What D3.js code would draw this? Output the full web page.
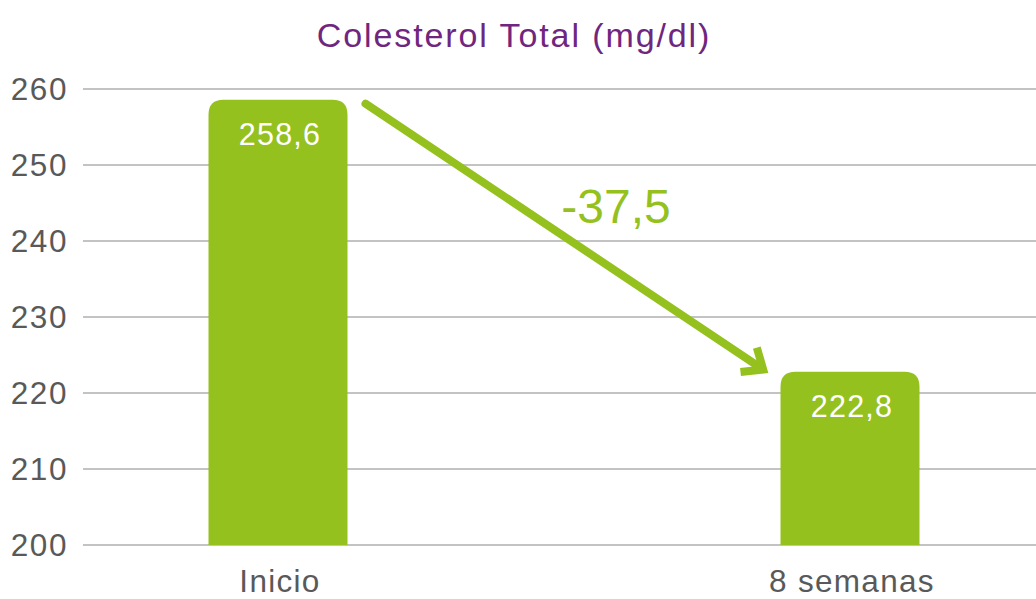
<!DOCTYPE html>
<html>
<head>
<meta charset="utf-8">
<script src="https://cdn.jsdelivr.net/npm/d3@7"></script>
<style>
  body { margin: 0; background: #fff; }
  svg { display: block; font-family: "Liberation Sans", Arial, sans-serif; }
</style>
</head>
<body>
<div id="graph"></div>
<script>
// chart data
var categories = ["Inicio", "8 semanas"];
var values = [258.6, 222.8];
var valueLabels = ["258,6", "222,8"];
var yTicks = [200, 210, 220, 230, 240, 250, 260];
var changeLabel = "-37,5";
var title = "Colesterol Total (mg/dl)";

var width = 1036, height = 599;
var green = "#95c11f";

var svg = d3.select("#graph").append("svg")
  .attr("width", width)
  .attr("height", height);

var y = d3.scaleLinear().domain([200, 260]).range([545, 89]);
var x = d3.scalePoint().domain(categories).range([-8, 1136]).padding(0.5);
var barW = 139, r = 15;

// title
svg.append("text")
  .attr("x", 514).attr("y", 47)
  .attr("text-anchor", "middle")
  .attr("font-size", 34)
  .attr("letter-spacing", 1.9)
  .attr("fill", "#70267e")
  .text(title);

// gridlines + y labels
var yAxis = svg.append("g");
yAxis.selectAll("line")
  .data(yTicks)
  .enter().append("line")
  .attr("x1", 83).attr("x2", width)
  .attr("y1", function(d) { return y(d); })
  .attr("y2", function(d) { return y(d); })
  .attr("stroke", "#c3c3c3")
  .attr("stroke-width", 2);
yAxis.selectAll("text")
  .data(yTicks)
  .enter().append("text")
  .attr("x", 68)
  .attr("y", function(d) { return y(d) + 11; })
  .attr("text-anchor", "end")
  .attr("font-size", 31.5)
  .attr("letter-spacing", 1.6)
  .attr("fill", "#595959")
  .text(function(d) { return d; });

// bars with rounded top corners
function barPath(cx, top, bottom) {
  var x0 = cx - barW / 2, x1 = cx + barW / 2;
  return "M" + x0 + "," + bottom +
    "V" + (top + r) +
    "Q" + x0 + "," + top + " " + (x0 + r) + "," + top +
    "H" + (x1 - r) +
    "Q" + x1 + "," + top + " " + x1 + "," + (top + r) +
    "V" + bottom + "Z";
}
svg.selectAll(".bar")
  .data(values)
  .enter().append("path")
  .attr("class", "bar")
  .attr("fill", green)
  .attr("d", function(d, i) { return barPath(x(categories[i]), y(d), y(200)); });

// value labels inside bars
svg.selectAll(".vlabel")
  .data(values)
  .enter().append("text")
  .attr("class", "vlabel")
  .attr("x", function(d, i) { return x(categories[i]) + 2; })
  .attr("y", function(d) { return y(d) + 45; })
  .attr("text-anchor", "middle")
  .attr("font-size", 30.5)
  .attr("letter-spacing", 1.2)
  .attr("fill", "#fff")
  .text(function(d, i) { return valueLabels[i]; });

// category labels
svg.selectAll(".cat")
  .data(categories)
  .enter().append("text")
  .attr("class", "cat")
  .attr("x", function(d) { return x(d) + 2; })
  .attr("y", 592)
  .attr("text-anchor", "middle")
  .attr("font-size", 31.5)
  .attr("letter-spacing", 1.3)
  .attr("fill", "#595959")
  .text(function(d) { return d; });

// arrow between bars
var sx = x(categories[0]) + barW / 2 + 18, sy = y(values[0]) + 4;
var ex = x(categories[1]) - barW / 2 - 14, ey = y(values[1]);
var ang = Math.atan2(ey - sy, ex - sx);
var back = 6;
svg.append("line")
  .attr("x1", sx).attr("y1", sy)
  .attr("x2", ex - back * Math.cos(ang)).attr("y2", ey - back * Math.sin(ang))
  .attr("stroke", green)
  .attr("stroke-width", 8)
  .attr("stroke-linecap", "round");
var headLen = 26, spread = 0.6;
var p1 = [ex - headLen * Math.cos(ang - spread), ey - headLen * Math.sin(ang - spread)];
var p2 = [ex - headLen * Math.cos(ang + spread), ey - headLen * Math.sin(ang + spread)];
svg.append("path")
  .attr("d", "M" + p1 + "L" + [ex - 4 * Math.cos(ang), ey - 4 * Math.sin(ang)] + "L" + p2)
  .attr("fill", "none")
  .attr("stroke", green)
  .attr("stroke-width", 8)
  .attr("stroke-linejoin", "miter");

svg.append("text")
  .attr("x", 616).attr("y", 223)
  .attr("text-anchor", "middle")
  .attr("font-size", 48)
  .attr("fill", green)
  .text(changeLabel);
</script>
</body>
</html>
